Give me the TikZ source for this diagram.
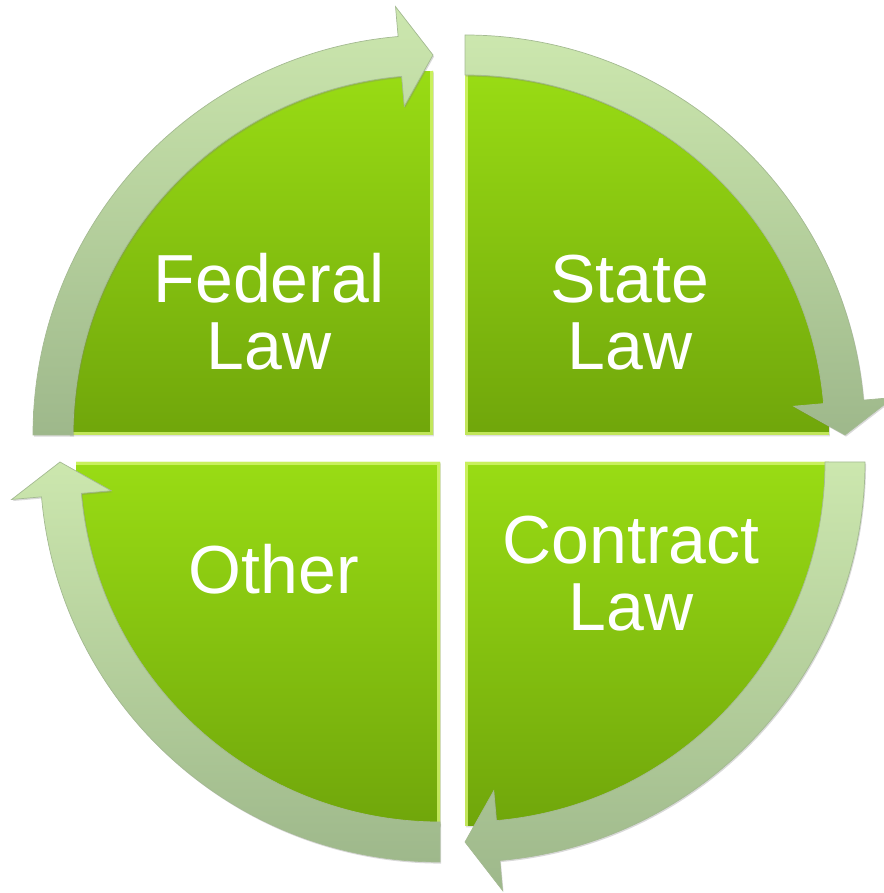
\documentclass[tikz,border=0pt]{standalone}
\usepackage{fontspec}
\setmainfont{Liberation Sans}
\usepackage{xcolor}
\definecolor{wedgeTop}{HTML}{99DC14}
\definecolor{wedgeBottom}{HTML}{70A60B}
\definecolor{bandTop}{HTML}{CCE7AE}
\definecolor{bandBottom}{HTML}{9EB88B}
\definecolor{bandBorder}{HTML}{A4BA92}
\definecolor{edgeGlow}{HTML}{D6F66E}
\usetikzlibrary{shadows}
\tikzset{
    wedge/.style={
        top color=wedgeTop,
        bottom color=wedgeBottom,
        draw=none,
        drop shadow={opacity=0.25, shadow xshift=0.5pt, shadow yshift=-0.8pt}
    },
    band/.style={
        top color=bandTop,
        bottom color=bandBottom,
        draw=bandBorder,
        line width=0.4pt,
        drop shadow={opacity=0.3, shadow xshift=0.6pt, shadow yshift=-0.9pt}
    },
    glow/.style={
        draw=edgeGlow,
        line width=3.5pt,
        opacity=0.8
    },
    lawtext/.style={
        text=white,
        align=center,
        anchor=base,
        inner sep=0pt,
        font=\fontsize{38.7}{38.7}\selectfont
    }
}

\begin{document}
\begin{tikzpicture}[x=0.02cm, y=0.02cm]
    \useasboundingbox (0,0) rectangle (883,893);

    % Four quarters, each with its curved arrow (clockwise)
    \foreach \cx/\cy/\a in {433/458/180, 465/458/90, 465/431/0, 440/431/270} {
        \pgfmathsetmacro{\b}{\a-85}
        \pgfmathsetmacro{\e}{\a-90}
        \begin{scope}[shift={(\cx,\cy)}]
            \path[wedge] (0,0) -- (\a:364) arc[start angle=\a, end angle=\e, radius=364] -- cycle;
            \begin{scope}
                \clip (0,0) -- (\a:364) arc[start angle=\a, end angle=\e, radius=364] -- cycle;
                \draw[glow] (\a:364) -- (0,0) -- (\e:364);
            \end{scope}
            \path[band] (\a:400) arc[start angle=\a, end angle=\b, radius=400]
                -- (\b:430) -- (\e:380) -- (\b:330) -- (\b:360)
                arc[start angle=\b, end angle=\a, radius=360] -- cycle;
        \end{scope}
    }

    % Labels (base = last line)
    \node[lawtext] (federal) at (269,523) {Federal\\Law};
    \node[lawtext] (state) at (630,523) {State\\Law};
    \node[lawtext] (contract) at (631,262) {Contract\\Law};
    \node[lawtext] (other) at (274,299) {Other};
\end{tikzpicture}
\end{document}
